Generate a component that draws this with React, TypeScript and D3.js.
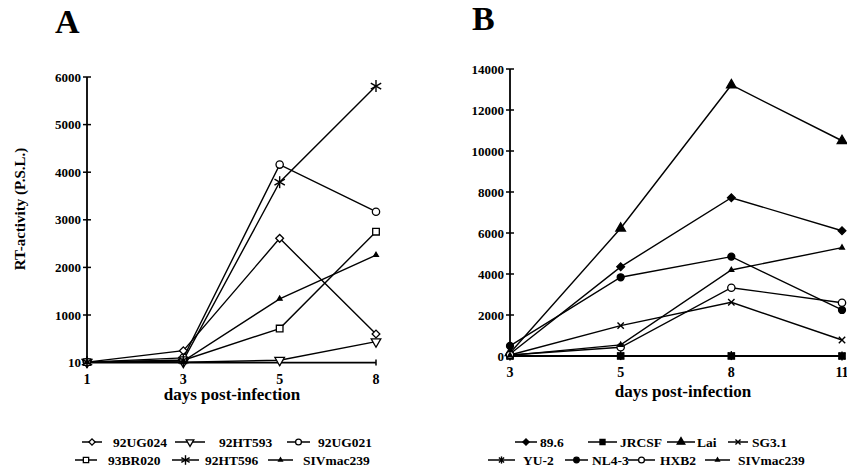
import React, {useEffect, useRef} from 'react';
import * as d3 from 'd3';

// panel A
const daysA = ['1', '3', '5', '8'];
const namesA = ['92UG024', '92HT593', '92UG021', '93BR020', '92HT596', 'SIVmac239'];
const markersA = ['diamondOpen', 'triDownOpen', 'circleOpen', 'squareOpen', 'star', 'smallTri'];
const v92UG024 = [10, 250, 2610, 600];
const v92HT593 = [10, 10, 50, 440];
const v92UG021 = [10, 100, 4160, 3170];
const v93BR020 = [10, 50, 715, 2750];
const v92HT596 = [10, 50, 3790, 5810];
const vSIVa = [10, 30, 1340, 2260];
const ticksA = [10, 1000, 2000, 3000, 4000, 5000, 6000];

// panel B
const daysB = ['3', '5', '8', '11'];
const namesB = ['89.6', 'JRCSF', 'Lai', 'SG3.1', 'YU-2', 'NL4-3', 'HXB2', 'SIVmac239'];
const markersB = ['diamondFill', 'squareFill', 'triFill', 'times', 'yu', 'circleFill', 'circleOpen', 'smallTri'];
const v896 = [100, 4350, 7720, 6110];
const vJRCSF = [0, 0, 0, 0];
const vLai = [150, 6230, 13220, 10500];
const vSG31 = [50, 1480, 2620, 780];
const vYU2 = [0, 20, 20, 0];
const vNL43 = [490, 3840, 4845, 2245];
const vHXB2 = [50, 425, 3330, 2600];
const vSIVb = [30, 540, 4195, 5285];
const ticksB = [0, 2000, 4000, 6000, 8000, 10000, 12000, 14000];

const FONT = '"Liberation Serif", "Times New Roman", serif';

// draws one marker into g at (x,y), k scales it (legend uses smaller ones)
function marker(g, type, x, y, k = 1) {
  const t = `translate(${x},${y})`;
  const sym = (s, size, fill, rot = 0) =>
    g.append('path')
      .attr('d', d3.symbol(s, size * k * k)())
      .attr('transform', t + ` rotate(${rot})`)
      .attr('fill', fill)
      .attr('stroke', 'black')
      .attr('stroke-width', 1.3);
  if (type === 'diamondOpen') sym(d3.symbolSquare, 30, 'white', 45);
  else if (type === 'diamondFill') sym(d3.symbolSquare, 30, 'black', 45);
  else if (type === 'triDownOpen') sym(d3.symbolTriangle, 40, 'white', 180);
  else if (type === 'circleOpen') sym(d3.symbolCircle, 42, 'white');
  else if (type === 'circleFill') sym(d3.symbolCircle, 38, 'black');
  else if (type === 'squareOpen') sym(d3.symbolSquare, 44, 'white');
  else if (type === 'squareFill') sym(d3.symbolSquare, 40, 'black');
  else if (type === 'triFill') sym(d3.symbolTriangle, 40, 'black');
  else if (type === 'smallTri') sym(d3.symbolTriangle, 10, 'black');
  else if (type === 'times' || type === 'star' || type === 'yu') {
    const r = (type === 'star' ? 6 : 4.5) * k;
    const angles = type === 'times' ? [45, 135] : type === 'star' ? [90, 30, 150] : [45, 135, 90];
    angles.forEach((a) => {
      const rad = (a * Math.PI) / 180;
      g.append('line')
        .attr('x1', x - r * Math.cos(rad)).attr('y1', y - r * Math.sin(rad))
        .attr('x2', x + r * Math.cos(rad)).attr('y2', y + r * Math.sin(rad))
        .attr('stroke', 'black').attr('stroke-width', 1.4);
    });
  }
}

function panel(svg, o) {
  const x = d3.scalePoint().domain(o.days).range(o.xr);
  const y = d3.scaleLinear().domain(o.yd).range(o.yr);
  const g = svg.append('g');

  // axes
  g.append('line').attr('x1', o.xr[0]).attr('x2', o.xr[0]).attr('y1', o.yr[0]).attr('y2', o.yr[1])
    .attr('stroke', 'black').attr('stroke-width', 1.8);
  g.append('line').attr('x1', o.xr[0]).attr('x2', o.xr[1]).attr('y1', o.yr[0]).attr('y2', o.yr[0])
    .attr('stroke', 'black').attr('stroke-width', 1.8);
  o.ticks.forEach((t) => {
    g.append('line').attr('x1', o.xr[0] - 4).attr('x2', o.xr[0] + 4).attr('y1', y(t)).attr('y2', y(t))
      .attr('stroke', 'black').attr('stroke-width', 1.5);
    g.append('text').attr('x', o.xr[0] - 6).attr('y', y(t) + 4.5).attr('text-anchor', 'end')
      .attr('font-family', FONT).attr('font-weight', 'bold').attr('font-size', 13).text(t);
  });
  o.days.forEach((d) => {
    g.append('line').attr('x1', x(d)).attr('x2', x(d)).attr('y1', o.yr[0] - 3).attr('y2', o.yr[0] + 3)
      .attr('stroke', 'black').attr('stroke-width', 1.5);
    g.append('text').attr('x', x(d)).attr('y', o.yr[0] + o.tickDy).attr('text-anchor', 'middle')
      .attr('font-family', FONT).attr('font-weight', 'bold').attr('font-size', 14).text(d);
  });
  g.append('text').attr('x', o.titleX).attr('y', o.titleY).attr('text-anchor', 'middle')
    .attr('font-family', FONT).attr('font-weight', 'bold').attr('font-size', 17).text('days post-infection');
  g.append('text').attr('x', o.letterX).attr('y', o.letterY)
    .attr('font-family', FONT).attr('font-weight', 'bold').attr('font-size', 34).text(o.letter);

  const line = d3.line().x((d, i) => x(o.days[i])).y((d) => y(d));
  o.series.forEach((s) => {
    g.append('path').attr('d', line(s)).attr('fill', 'none').attr('stroke', 'black').attr('stroke-width', 1.4);
  });
  o.series.forEach((s, k) => {
    s.forEach((v, i) => marker(g, o.markers[k], x(o.days[i]), y(v)));
  });

  // legend
  o.legend.forEach(([k, x0, x1, tx, ly]) => {
    g.append('line').attr('x1', x0).attr('x2', x1).attr('y1', ly).attr('y2', ly)
      .attr('stroke', 'black').attr('stroke-width', 1.5);
    marker(g, o.markers[k], (x0 + x1) / 2, ly, 0.8);
    g.append('text').attr('x', tx).attr('y', ly + 5)
      .attr('font-family', FONT).attr('font-weight', 'bold').attr('font-size', 13.5).text(o.names[k]);
  });
}

export default function App() {
  const ref = useRef(null);

  useEffect(() => {
    const svg = d3.select(ref.current);
    svg.selectAll('*').remove();

    panel(svg, {
      days: daysA, names: namesA, markers: markersA,
      series: [v92UG024, v92HT593, v92UG021, v93BR020, v92HT596, vSIVa],
      xr: [87, 376], yd: [0, 6000], yr: [362.6, 77], ticks: ticksA, tickDy: 21,
      titleX: 232, titleY: 400, letter: 'A', letterX: 55, letterY: 33,
      legend: [
        [0, 82, 102, 113, 442], [1, 175, 205, 219, 442], [2, 287, 310, 318, 442],
        [3, 75, 97, 108, 460], [4, 172, 199, 205, 460], [5, 268, 293, 303, 460],
      ],
    });

    panel(svg, {
      days: daysB, names: namesB, markers: markersB,
      series: [v896, vJRCSF, vLai, vSG31, vYU2, vNL43, vHXB2, vSIVb],
      xr: [510, 842], yd: [0, 14000], yr: [356, 69], ticks: ticksB, tickDy: 21,
      titleX: 683, titleY: 397, letter: 'B', letterX: 472, letterY: 30,
      legend: [
        [0, 515, 537, 540, 442], [1, 588, 617, 620, 442], [2, 667, 695, 697, 442], [3, 728, 748, 752, 442],
        [4, 488, 515, 523, 460], [5, 565, 588, 592, 460], [6, 628, 655, 660, 460], [7, 705, 730, 738, 460],
      ],
    });

    // y title, panel A only
    svg.append('text').attr('transform', 'translate(25,209) rotate(-90)').attr('text-anchor', 'middle')
      .attr('font-family', FONT).attr('font-weight', 'bold').attr('font-size', 15).text('RT-activity (P.S.L.)');
  }, []);

  return (
    <svg ref={ref} width={847} height={475} style={{position: 'absolute', left: 0, top: 0, background: 'white'}} />
  );
}
